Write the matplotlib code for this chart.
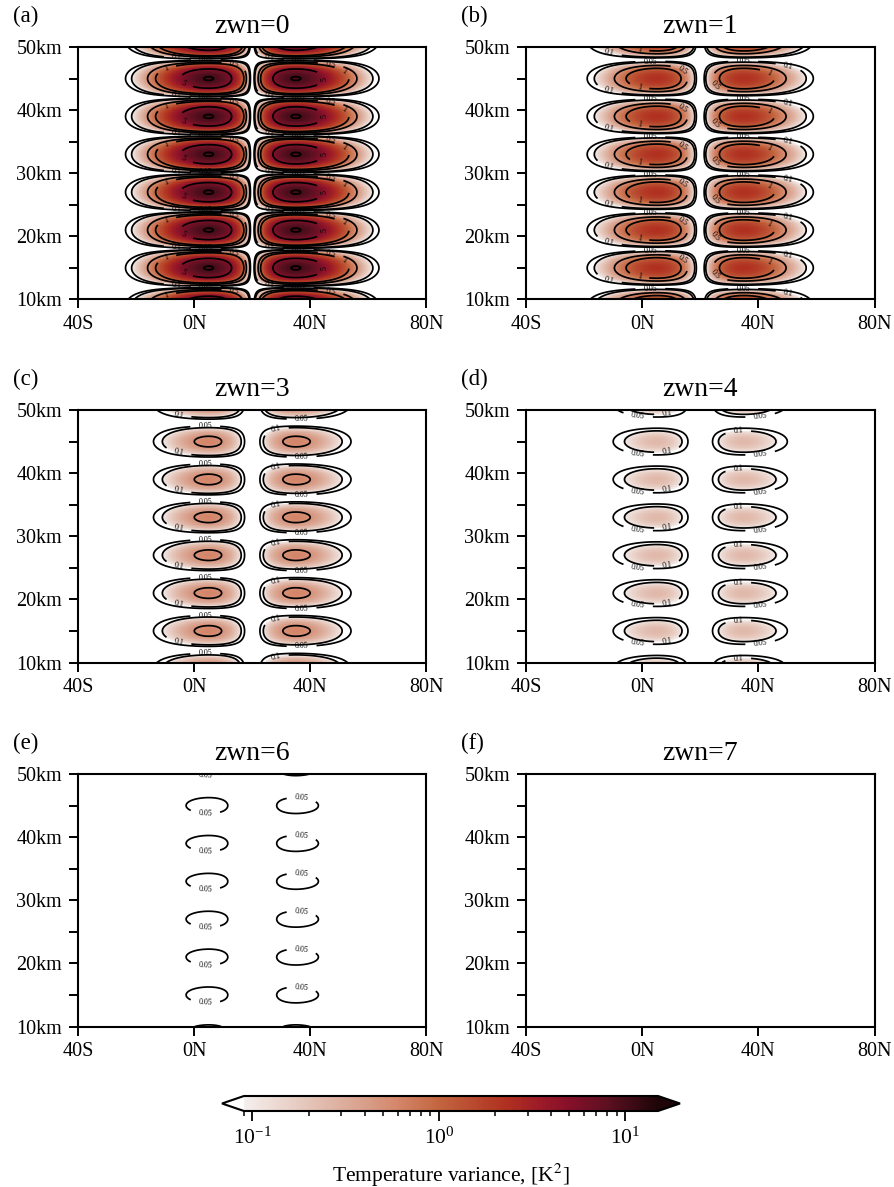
import numpy as np
import matplotlib
matplotlib.use("Agg")
import matplotlib.pyplot as plt
from matplotlib.colors import LinearSegmentedColormap, LogNorm

plt.rcParams['font.family'] = ['Liberation Serif', 'DejaVu Serif']
plt.rcParams['mathtext.fontset'] = 'stix'

# values
panel_tags = ['(a)', '(b)', '(c)', '(d)', '(e)', '(f)']
zwn = [0, 1, 3, 4, 6, 7]
peak_variance = [10.25, 2.3, 0.61, 0.25, 0.08, 0.03]
node_lat = 20.0
peak_offset_lat = 15.0
wave_peaks_km = [9, 15, 21, 27, 33, 39, 45, 51]
contour_levels = [0.05, 0.1, 0.5, 1, 5, 10]
lat_ticks = [-40, 0, 40, 80]
lat_labels = ['40S', '0N', '40N', '80N']
z_ticks = [10, 20, 30, 40, 50]
z_labels = ['10km', '20km', '30km', '40km', '50km']
z_minor = [15, 25, 35, 45]
cbar_stops = [0.09, 0.2, 0.4, 0.6, 1.0, 2.3, 3.5, 5.0, 8.0, 15.0]
cbar_colors = ['#f4efed', '#e4c4b8', '#d89f8a', '#d4866a', '#c2653f', '#b03020',
               '#9c1b28', '#861029', '#5e1022', '#1e0508']

# contour label spots: level, latitude, height offset from a wave peak
label_spots = {
    0: [(0.05, 4, -2.8), (0.1, -6, -2.8), (0.5, 14, 2.6), (1, -10, 2.2), (5, -4, -1),
        (0.1, 26, -2.6), (0.05, 36, 2.8), (0.5, 47, 2.2), (1, 52, 1.5), (5, 45, 0)],
    1: [(0.05, 2.8, 2.8), (0.1, -11.4, -1.9), (0.5, 14, 1.3), (1, -1, -1.4),
        (0.05, 34.8, 2.8), (0.1, 50.3, 1.9), (0.5, 25, -1.2), (1, 43.8, 0.9)],
    2: [(0.05, 3.8, 2.6), (0.1, -5.5, -2),
        (0.1, 28, 2.2), (0.05, 37, -2.5)],
    3: [(0.05, -1.5, -2.2), (0.1, 8.7, -2),
        (0.1, 33, 2), (0.05, 40.7, -2.2)],
    4: [(0.05, 3.8, -1.4), (0.05, 37, 1.4)],
    5: [],
}


def variance_field(lat2d, z2d, peak):
    # wave pattern with a node at 20N, peaks
    d = (lat2d - node_lat) / peak_offset_lat
    lat_part = d ** 2 * np.exp(1 - d ** 2)
    z_part = np.cos(np.pi * (z2d - wave_peaks_km[1]) / (wave_peaks_km[1] - wave_peaks_km[0])) ** 2
    return peak * lat_part * z_part


cmap = LinearSegmentedColormap.from_list(
    'variance',
    list(zip((np.log10(cbar_stops) - np.log10(cbar_stops[0])) /
             (np.log10(cbar_stops[-1]) - np.log10(cbar_stops[0])), cbar_colors)), N=256)
cmap.set_under('white')
cmap.set_over(cbar_colors[-1])
norm = LogNorm(vmin=cbar_stops[0], vmax=cbar_stops[-1])

W, H = 895, 1187
fig = plt.figure(figsize=(W / 100, H / 100), dpi=100)

lat = np.arange(-40, 80.01, 0.25)
z = np.arange(10, 50.01, 0.1)
lat2d, z2d = np.meshgrid(lat, z)

lefts = [78, 526]
tops = [47, 410, 774]
mesh = None
for i in range(6):
    x0 = lefts[i % 2]
    y0 = tops[i // 2]
    ax = fig.add_axes([x0 / W, 1 - (y0 + 252.5) / H, 348.5 / W, 252.5 / H])
    field = variance_field(lat2d, z2d, peak_variance[i])
    mesh = ax.pcolormesh(lat, z, field, cmap=cmap, norm=norm, shading='auto', rasterized=True)

    for lev in contour_levels:
        if lev >= field.max():
            continue
        cs = ax.contour(lat, z, field, levels=[lev], colors='k', linewidths=1.25)
        spots = []
        for level, spot_lat, dz in label_spots[i]:
            if level == lev:
                spots += [(spot_lat, pk + dz) for pk in wave_peaks_km if 10.5 < pk + dz < 49.8]
        if spots:
            ax.clabel(cs, fmt='%g', fontsize=5.8, inline=True, inline_spacing=8, manual=spots)

    ax.set_xlim(-40, 80)
    ax.set_ylim(10, 50)
    ax.set_xticks(lat_ticks)
    ax.set_xticklabels(lat_labels)
    ax.set_yticks(z_ticks)
    ax.set_yticklabels(z_labels)
    ax.set_yticks(z_minor, minor=True)
    ax.tick_params(which='both', direction='out', length=6.5, width=1.4, labelsize=14.5, pad=5)
    for sp in ax.spines.values():
        sp.set_linewidth(1.5)
    ax.set_title(f'zwn={zwn[i]}', fontsize=20, pad=10)
    fig.text((x0 - 65) / W, 1 - (y0 - 31) / H, panel_tags[i], fontsize=16.5, va='center')

cax = fig.add_axes([222 / W, 1 - 1111 / H, 458 / W, 15 / H])
cb = fig.colorbar(mesh, cax=cax, orientation='horizontal', extend='both', extendfrac=0.053)
cb.outline.set_linewidth(1.5)
cb.ax.tick_params(which='major', length=7, width=1.3, labelsize=15.5, pad=5)
cb.ax.tick_params(which='minor', length=3.5, width=1.1)
cb.set_label('Temperature variance, [K$^2$]', fontsize=15.5, labelpad=9)

fig.savefig('out.png', dpi=100)
